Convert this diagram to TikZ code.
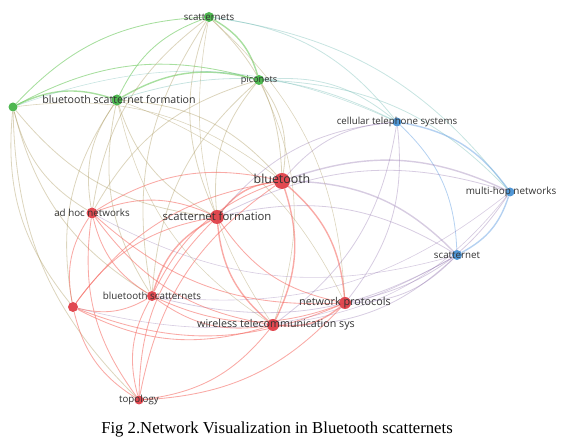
\documentclass[tikz,border=0pt]{standalone}
\usepackage{fontspec}
\setmainfont{Liberation Serif}
\newfontfamily\labfont{Open Sans}
\definecolor{nred}{RGB}{222,58,66}
\definecolor{ngreen}{RGB}{64,178,66}
\definecolor{nblue}{RGB}{66,142,210}
\definecolor{ered}{RGB}{244,100,92}
\definecolor{egreen}{RGB}{96,196,80}
\definecolor{eblue}{RGB}{120,172,230}
\definecolor{eolive}{RGB}{168,150,90}
\definecolor{epurple}{RGB}{140,110,170}
\definecolor{eteal}{RGB}{96,178,170}
\definecolor{labcol}{RGB}{50,50,50}
\pgfdeclarelayer{edges}
\pgfsetlayers{edges,main}
\tikzset{
  er/.style={draw=ered,draw opacity=0.55,line width=0.85pt},
  eg/.style={draw=egreen,draw opacity=0.55,line width=0.85pt},
  eb/.style={draw=eblue,draw opacity=0.55,line width=0.8pt},
  eo/.style={draw=eolive,draw opacity=0.4,line width=0.8pt},
  ep/.style={draw=epurple,draw opacity=0.35,line width=0.8pt},
  et/.style={draw=eteal,draw opacity=0.35,line width=0.8pt},
  heavy/.style={line width=1.4pt},
  light/.style={line width=0.6pt},
  vert/.style={circle,inner sep=0pt,draw=none,fill opacity=0.92},
  rv/.style={vert,fill=nred},
  gv/.style={vert,fill=ngreen},
  bv/.style={vert,fill=nblue},
  lab/.style={inner sep=0pt,text=labcol,font=\labfont\fontsize{#1}{#1}\selectfont},
  lab/.default=9
}
\newcommand\E[3]{%
  \pgfpointanchor{#2}{center}\pgfgetlastxy{\eax}{\eay}%
  \pgfpointanchor{#3}{center}\pgfgetlastxy{\ebx}{\eby}%
  \pgfmathsetmacro\ecross{((\ebx-\eax)/100)*((216-\eay)/100)-((\eby-\eay)/100)*((260-\eax)/100)}%
  \ifdim\ecross pt>0pt
    \draw[#1] (#2) to[bend right=22] (#3);%
  \else
    \draw[#1] (#2) to[bend left=22] (#3);%
  \fi}
\begin{document}
\begin{tikzpicture}[x=1pt,y=1pt]
\useasboundingbox (0,0) rectangle (573,446);
% vertices
\node[gv,minimum size=10pt] (sn) at (209,429) {};
\node[gv,minimum size=10pt] (pc) at (259,366) {};
\node[gv,minimum size=11pt] (bsf) at (117,346) {};
\node[gv,minimum size=9pt] (g1) at (13,339) {};
\node[bv,minimum size=9pt] (cts) at (397,324) {};
\node[rv,minimum size=16pt] (bt) at (282,265) {};
\node[bv,minimum size=9pt] (mh) at (510,254) {};
\node[rv,minimum size=11pt] (ah) at (92,233) {};
\node[rv,minimum size=14pt] (sf) at (217,229) {};
\node[bv,minimum size=10pt] (sc) at (457,191) {};
\node[rv,minimum size=10pt] (r1) at (73,139) {};
\node[rv,minimum size=10pt] (bs) at (152,150) {};
\node[rv,minimum size=12pt] (np) at (345,143) {};
\node[rv,minimum size=12pt] (wt) at (273,121) {};
\node[rv,minimum size=9pt] (tp) at (139,46) {};
\begin{pgfonlayer}{edges}
% green
\E{eg,heavy}{sn}{pc}
\E{eg}{sn}{bsf}
\E{eg}{sn}{g1}
\E{eg,heavy}{pc}{bsf}
\E{eg}{pc}{g1}
\E{eg,heavy}{bsf}{g1}
% green-red
\E{eo}{sn}{bt}
\E{eo}{sn}{sf}
\E{eo}{sn}{ah}
\E{eo}{sn}{bs}
\E{eo,light}{sn}{wt}
\E{eo,light}{sn}{np}
\E{eo}{pc}{bt}
\E{eo}{pc}{sf}
\E{eo}{pc}{ah}
\E{eo}{pc}{bs}
\E{eo,light}{pc}{wt}
\E{eo}{bsf}{bt}
\E{eo}{bsf}{sf}
\E{eo}{bsf}{ah}
\E{eo}{bsf}{bs}
\E{eo,light}{bsf}{wt}
\E{eo,light}{bsf}{np}
\E{eo}{bsf}{r1}
\E{eo}{g1}{ah}
\E{eo}{g1}{sf}
\E{eo,light}{g1}{bt}
\E{eo}{g1}{tp}
\E{eo}{g1}{bs}
\E{eo}{g1}{r1}
% green-blue
\E{et}{sn}{cts}
\E{et}{sn}{mh}
\E{et}{pc}{cts}
\E{et}{pc}{mh}
\E{et}{bsf}{cts}
\E{et,light}{g1}{cts}
% blue
\E{eb,heavy}{cts}{mh}
\E{eb}{cts}{sc}
\E{eb,heavy}{mh}{sc}
% red-blue
\E{ep}{bt}{cts}
\E{ep,heavy}{bt}{mh}
\E{ep,heavy}{bt}{sc}
\E{ep}{sf}{cts}
\E{ep}{sf}{sc}
\E{ep}{sf}{mh}
\E{ep,light}{ah}{sc}
\E{ep}{bs}{sc}
\E{ep}{wt}{sc}
\E{ep}{np}{sc}
\E{ep}{np}{cts}
\E{ep}{np}{mh}
\E{ep}{wt}{cts}
\E{ep,light}{wt}{mh}
\E{ep,light}{r1}{sc}
\E{ep,light}{bs}{mh}
% red
\E{er,heavy}{bt}{sf}
\E{er}{bt}{ah}
\E{er}{bt}{bs}
\E{er,heavy}{bt}{wt}
\E{er,heavy}{bt}{np}
\E{er}{bt}{r1}
\E{er}{bt}{tp}
\E{er}{sf}{ah}
\E{er,heavy}{sf}{bs}
\E{er,heavy}{sf}{wt}
\E{er}{sf}{np}
\E{er}{sf}{r1}
\E{er}{sf}{tp}
\E{er}{ah}{bs}
\E{er}{ah}{r1}
\E{er}{ah}{wt}
\E{er}{ah}{np}
\E{er}{ah}{tp}
\E{er}{bs}{r1}
\E{er}{bs}{wt}
\E{er}{bs}{np}
\E{er}{bs}{tp}
\E{er}{r1}{wt}
\E{er}{r1}{np}
\E{er}{r1}{tp}
\E{er,heavy}{wt}{np}
\E{er}{wt}{tp}
\E{er}{np}{tp}
\end{pgfonlayer}
% labels
\node[lab=9.7] (sn-l) at (sn) {scatternets};
\node[lab=9.2] (pc-l) at (pc) {piconets};
\node[lab=10.6] (bsf-l) at (119,346) {bluetooth scatternet formation};
\node[lab=9.7] (cts-l) at (397,324) {cellular telephone systems};
\node[lab=12.4] (bt-l) at (282,267) {bluetooth};
\node[lab=9.9] (mh-l) at (511,254) {multi-hop networks};
\node[lab=9.8] (ah-l) at (92,233) {ad hoc networks};
\node[lab=11.3] (sf-l) at (217,230) {scatternet formation};
\node[lab=9.8] (sc-l) at (457,191) {scatternet};
\node[lab=9.8] (bs-l) at (152,150) {bluetooth scatternets};
\node[lab=10.8] (np-l) at (345,143) {network protocols};
\node[lab=10.7] (wt-l) at (276,121) {wireless telecommunication sys};
\node[lab=9.7] (tp-l) at (139,46) {topology};
\node[inner sep=0pt,font=\fontsize{16.7}{16.7}\selectfont] (cap) at (277,16) {Fig 2.Network Visualization in Bluetooth scatternets};
\end{tikzpicture}
\end{document}
